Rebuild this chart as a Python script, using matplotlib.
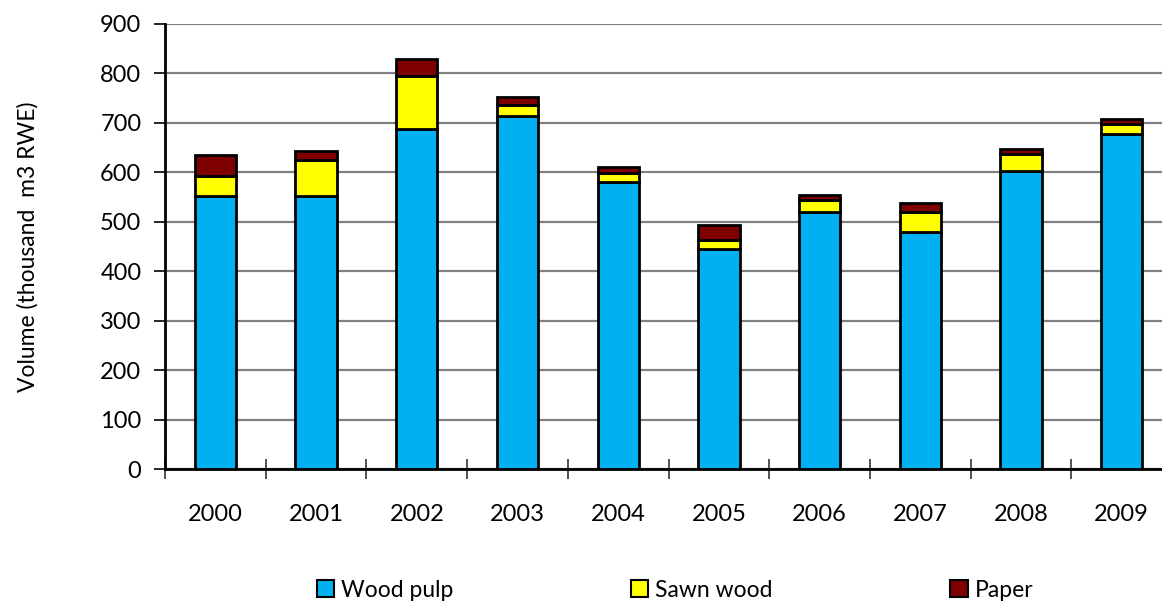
import matplotlib.pyplot as plt
import numpy as np
from matplotlib.ticker import MultipleLocator, FixedLocator
from matplotlib.patches import Patch

plt.rcParams['font.family'] = ['Lato', 'DejaVu Sans']

years = ['2000', '2001', '2002', '2003', '2004', '2005', '2006', '2007', '2008', '2009']
wood_pulp = [553, 552, 688, 714, 581, 444, 520, 479, 603, 677]
sawn_wood = [39, 72, 107, 23, 18, 20, 24, 41, 34, 21]
paper = [44, 19, 34, 16, 11, 30, 10, 18, 11, 10]

c_pulp = '#00B0F0'
c_sawn = '#FFFF00'
c_paper = '#7F0000'

fig = plt.figure(figsize=(11.62, 6.04), dpi=100)
ax = fig.add_axes([165 / 1162, 1 - 469 / 604, 1 - 165 / 1162, (469 - 24) / 604])

x = np.arange(len(years))
pulp = np.array(wood_pulp)
sawn = np.array(sawn_wood)
pap = np.array(paper)

kw = dict(width=0.41, edgecolor='black', linewidth=2, zorder=3)
ax.bar(x, pulp, color=c_pulp, **kw)
ax.bar(x, sawn, bottom=pulp, color=c_sawn, **kw)
ax.bar(x, pap, bottom=pulp + sawn, color=c_paper, **kw)

ax.set_xlim(-0.5, 9.4)
ax.set_ylim(0, 900)
ax.yaxis.set_major_locator(MultipleLocator(100))
ax.yaxis.grid(True, color='#808080', linewidth=1.6, zorder=0)
ax.set_axisbelow(True)

ax.set_xticks(x)
ax.set_xticklabels(years)
ax.xaxis.set_minor_locator(FixedLocator(np.arange(-0.5, 10, 1)))
ax.tick_params(axis='x', which='major', length=0, pad=25, labelsize=17)
ax.tick_params(axis='x', which='minor', direction='inout', length=14, width=1.2, color='#333333')
ax.tick_params(axis='y', direction='out', length=8, width=1.2, labelsize=17, pad=9)

for s in ['top', 'right']:
    ax.spines[s].set_visible(False)
ax.spines['left'].set_linewidth(2)
ax.spines['bottom'].set_linewidth(2)

ax.set_ylabel('Volume (thousand  m3 RWE)', fontsize=16.5, labelpad=44)

handles = [Patch(facecolor=c_pulp, edgecolor='black', linewidth=1.5, label='Wood pulp'),
           Patch(facecolor=c_sawn, edgecolor='black', linewidth=1.5, label='Sawn wood'),
           Patch(facecolor=c_paper, edgecolor='black', linewidth=1.5, label='Paper')]
fig.legend(handles=handles, loc='center', bbox_to_anchor=(0.581, 0.023), ncol=3,
           frameon=False, fontsize=16.5, handlelength=0.75, handleheight=0.75,
           handletextpad=0.3, columnspacing=7.75)

fig.savefig('out.png', dpi=100)
